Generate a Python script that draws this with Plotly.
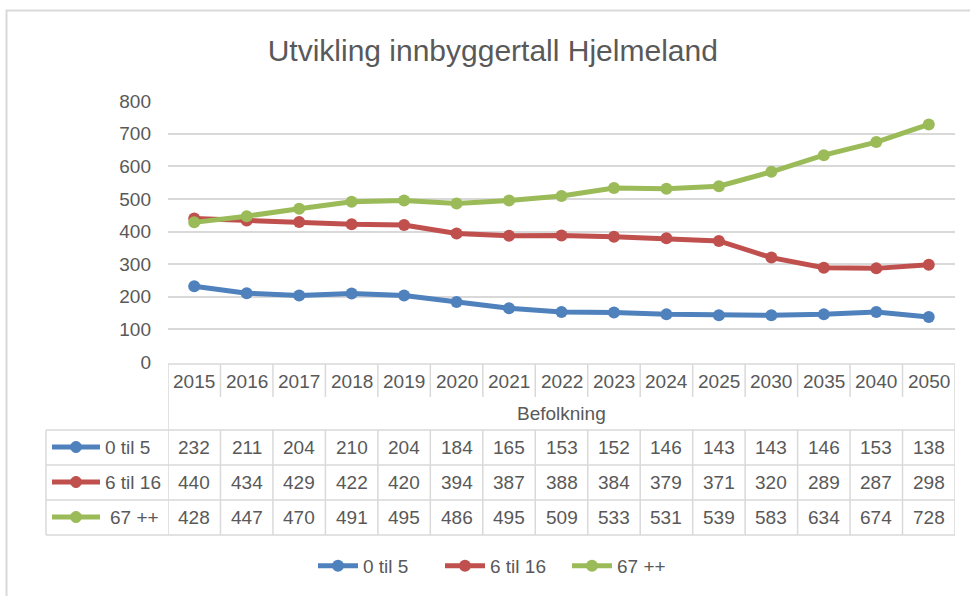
import plotly.graph_objects as go

years = ["2015", "2016", "2017", "2018", "2019", "2020", "2021", "2022", "2023", "2024", "2025", "2030", "2035", "2040", "2050"]
s0_5 = [232, 211, 204, 210, 204, 184, 165, 153, 152, 146, 143, 143, 146, 153, 138]
s6_16 = [440, 434, 429, 422, 420, 394, 387, 388, 384, 379, 371, 320, 289, 287, 298]
s67 = [428, 447, 470, 491, 495, 486, 495, 509, 533, 531, 539, 583, 634, 674, 728]
names = ["0 til 5", "6 til 16", "67 ++"]
colors = ["#4F81BD", "#C0504D", "#9BBB59"]
series = [s0_5, s6_16, s67]
title = "Utvikling innbyggertall Hjelmeland"
axis_title = "Befolkning"
yticks = [0, 100, 200, 300, 400, 500, 600, 700, 800]

W, H = 970, 596
FONT = "Liberation Sans, Arial, sans-serif"
TXT = "#595959"
GRID = "#D9D9D9"
FS = 19

def xp(px):
    return px / W

def yp(py):
    return 1 - py / H

fig = go.Figure()
for name, vals, col in zip(names, series, colors):
    fig.add_trace(go.Scatter(
        x=list(range(len(years))), y=vals, name=name, mode="lines+markers",
        line=dict(color=col, width=5),
        marker=dict(color=col, size=12),
    ))

shapes = []
annotations = []

# outer chart frame
shapes.append(dict(type="rect", xref="paper", yref="paper", x0=xp(6.5), x1=xp(990), y0=yp(620), y1=yp(10.5),
                   line=dict(color="#D9D9D9", width=2), fillcolor="rgba(0,0,0,0)", layer="below"))

def hline(py, x0, x1):
    shapes.append(dict(type="line", xref="paper", yref="paper", x0=xp(x0), x1=xp(x1), y0=yp(py), y1=yp(py),
                       line=dict(color=GRID, width=1.5)))

def vline_cat(xv, y0, y1):
    shapes.append(dict(type="line", xref="x", yref="paper", x0=xv, x1=xv, y0=yp(y0), y1=yp(y1),
                       line=dict(color=GRID, width=1.5)))

L_TABLE, X_START, X_END = 46, 168, 955
hline(364, X_START, X_END)
for py in [430, 465, 500, 535]:
    hline(py, L_TABLE, X_END)
vline_cat(-0.5, 364, 535)
vline_cat(len(years) - 0.5, 364, 535)
shapes.append(dict(type="line", xref="paper", yref="paper", x0=xp(L_TABLE), x1=xp(L_TABLE), y0=yp(430), y1=yp(535),
                   line=dict(color=GRID, width=1.5)))
for i in range(1, len(years)):
    vline_cat(i - 0.5, 364, 397)
    vline_cat(i - 0.5, 430, 535)

# header row
for i, yr in enumerate(years):
    annotations.append(dict(x=i, xref="x", y=yp(381), yref="paper", text=yr, showarrow=False,
                            font=dict(size=FS, color=TXT, family=FONT), xanchor="center", yanchor="middle"))
annotations.append(dict(x=xp(561.5), xref="paper", y=yp(413), yref="paper", text=axis_title,
                        showarrow=False, font=dict(size=FS, color=TXT, family=FONT), xanchor="center", yanchor="middle"))

row_y = [447, 482, 517]
for name, vals, col, ry in zip(names, series, colors, row_y):
    for i, v in enumerate(vals):
        annotations.append(dict(x=i, xref="x", y=yp(ry), yref="paper", text=str(v), showarrow=False,
                                font=dict(size=FS, color=TXT, family=FONT), xanchor="center", yanchor="middle"))
    shapes.append(dict(type="line", xref="paper", yref="paper", x0=xp(52), x1=xp(100), y0=yp(ry), y1=yp(ry),
                       line=dict(color=col, width=5)))
    shapes.append(dict(type="circle", xref="paper", yref="paper", x0=xp(70.5), x1=xp(81.5), y0=yp(ry + 5.5),
                       y1=yp(ry - 5.5), line=dict(color=col, width=1), fillcolor=col))
    tx = 108 if name == "67 ++" else 103
    annotations.append(dict(x=xp(tx), xref="paper", y=yp(ry), yref="paper", text=name, showarrow=False,
                            font=dict(size=FS, color=TXT, family=FONT), xanchor="left", yanchor="middle"))

fig.update_layout(
    width=W, height=H,
    margin=dict(l=0, r=0, t=0, b=0, autoexpand=False),
    paper_bgcolor="white", plot_bgcolor="white",
    font=dict(family=FONT, color=TXT, size=FS),
    title=dict(text=title, x=0.508, xanchor="center", y=yp(50), yanchor="middle",
               font=dict(size=30, color=TXT, family=FONT)),
    xaxis=dict(domain=[xp(X_START), xp(X_END)], range=[-0.5, len(years) - 0.5],
               showticklabels=False, showgrid=False, zeroline=False, showline=False, ticks=""),
    yaxis=dict(domain=[yp(362), yp(101)], range=[0, 800], tickvals=yticks, showgrid=True, gridcolor=GRID,
               gridwidth=1.5, zeroline=False, showline=False, ticks="", ticklabelstandoff=16,
               tickfont=dict(size=FS, color=TXT, family=FONT)),
    legend=dict(orientation="h", x=xp(313), xanchor="left", y=yp(566), yanchor="middle",
                font=dict(size=FS, color=TXT, family=FONT), itemwidth=40, entrywidth=72,
                entrywidthmode="pixels", bgcolor="rgba(0,0,0,0)"),
    shapes=shapes, annotations=annotations,
    showlegend=True,
)
fig.write_html("out.html", config={"displayModeBar": False},
               post_script="document.body.style.margin='0';")
